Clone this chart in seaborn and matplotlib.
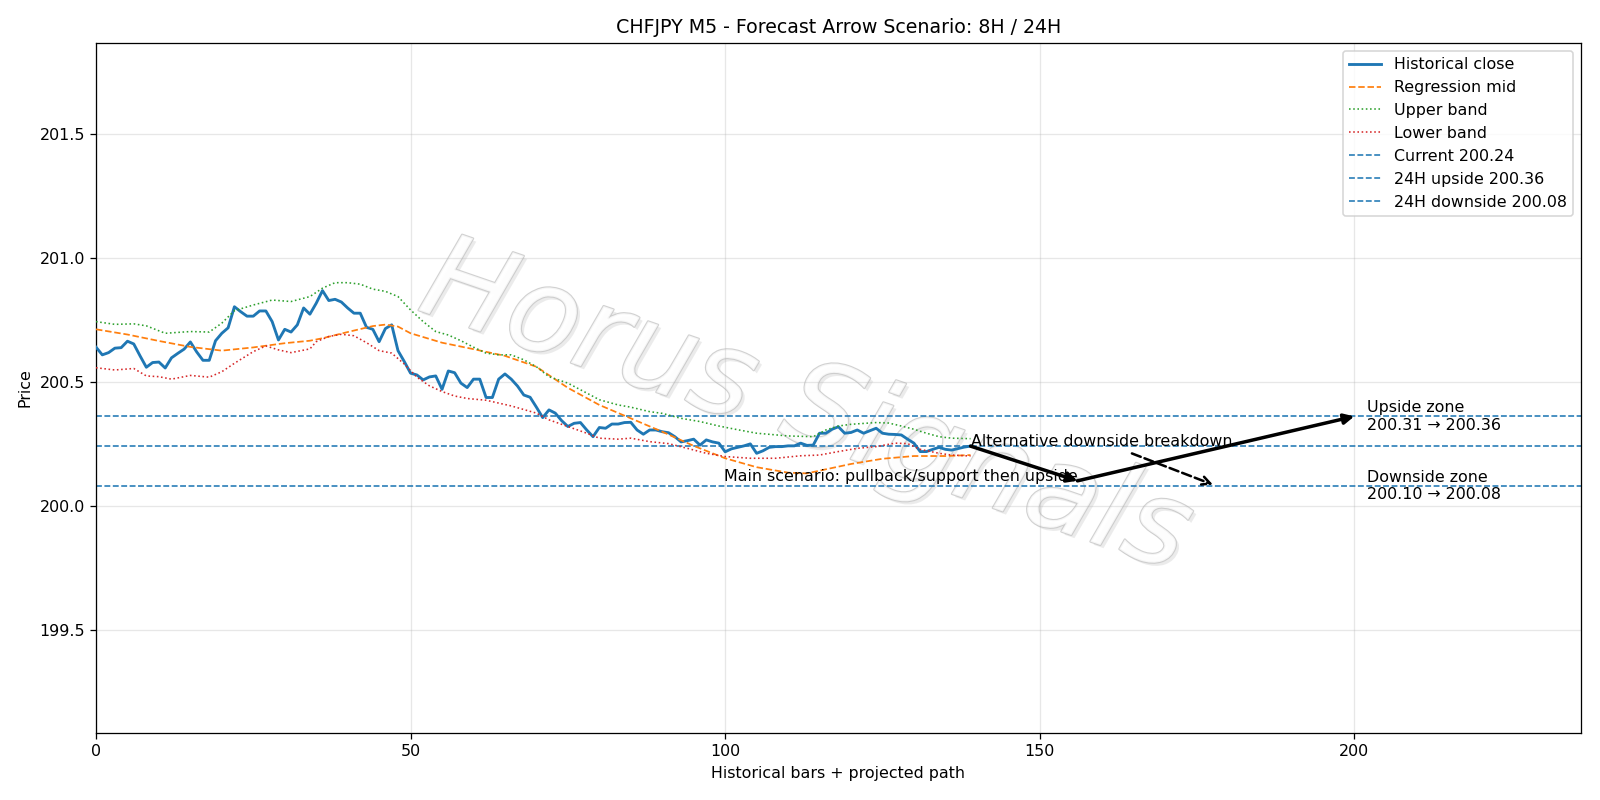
import numpy as np
import pandas as pd
import matplotlib
matplotlib.use("Agg")
import matplotlib.pyplot as plt
import matplotlib.patheffects as pe
import seaborn as sns

# ---------------- data ----------------
close = [
    200.639, 200.608, 200.617, 200.635, 200.637, 200.663, 200.652, 200.604, 200.558, 200.577,
    200.579, 200.555, 200.596, 200.614, 200.631, 200.660, 200.620, 200.586, 200.586, 200.665,
    200.695, 200.717, 200.802, 200.782, 200.764, 200.764, 200.785, 200.785, 200.742, 200.668,
    200.711, 200.700, 200.729, 200.797, 200.772, 200.816, 200.867, 200.827, 200.832, 200.821,
    200.797, 200.776, 200.776, 200.719, 200.711, 200.661, 200.714, 200.729, 200.625, 200.581,
    200.534, 200.527, 200.507, 200.519, 200.523, 200.469, 200.543, 200.536, 200.494, 200.476,
    200.510, 200.510, 200.436, 200.436, 200.510, 200.531, 200.510, 200.482, 200.446, 200.437,
    200.397, 200.355, 200.386, 200.373, 200.343, 200.319, 200.332, 200.335, 200.305, 200.278,
    200.315, 200.312, 200.329, 200.329, 200.335, 200.336, 200.305, 200.288, 200.305, 200.305,
    200.298, 200.294, 200.278, 200.257, 200.262, 200.268, 200.244, 200.265, 200.257, 200.252,
    200.217, 200.229, 200.235, 200.241, 200.249, 200.211, 200.221, 200.235, 200.238, 200.238,
    200.241, 200.241, 200.252, 200.243, 200.244, 200.292, 200.292, 200.308, 200.318, 200.292,
    200.295, 200.305, 200.292, 200.302, 200.312, 200.292, 200.288, 200.287, 200.285, 200.268,
    200.252, 200.218, 200.218, 200.227, 200.235, 200.227, 200.224, 200.230, 200.236, 200.240,
]

mid_x = [0, 5, 10, 15, 20, 25, 30, 34, 36, 40, 44, 46, 48, 50, 55, 60, 65, 70, 75, 80,
         85, 90, 95, 100, 105, 110, 113, 115, 120, 125, 130, 135, 139]
mid_y = [200.711, 200.690, 200.664, 200.640, 200.625, 200.638, 200.655, 200.665, 200.675,
         200.700, 200.724, 200.730, 200.722, 200.695, 200.657, 200.631, 200.604, 200.560,
         200.475, 200.406, 200.352, 200.298, 200.241, 200.191, 200.155, 200.133, 200.130,
         200.141, 200.168, 200.189, 200.200, 200.200, 200.204]

upper_x = [0, 3, 6, 8, 11, 15, 18, 20, 22, 25, 28, 31, 34, 36, 38, 40, 42, 44, 46, 48, 50,
           52, 54, 56, 58, 60, 62, 64, 66, 68, 70, 72, 75, 78, 80, 83, 85, 88, 90, 93, 96,
           99, 102, 105, 110, 114, 116, 118, 120, 124, 126, 128, 130, 132, 134, 136, 139]
upper_y = [200.742, 200.731, 200.733, 200.725, 200.695, 200.702, 200.700, 200.736, 200.786,
           200.809, 200.829, 200.823, 200.843, 200.877, 200.899, 200.899, 200.893, 200.873,
           200.864, 200.843, 200.789, 200.742, 200.702, 200.688, 200.665, 200.639, 200.615,
           200.608, 200.608, 200.588, 200.560, 200.520, 200.494, 200.454, 200.427, 200.406,
           200.397, 200.379, 200.372, 200.352, 200.339, 200.321, 200.306, 200.292, 200.281,
           200.278, 200.305, 200.321, 200.328, 200.335, 200.333, 200.321, 200.308, 200.292,
           200.278, 200.272, 200.270]

lower_x = [0, 3, 6, 8, 10, 12, 15, 18, 20, 22, 25, 27, 29, 31, 34, 35, 37, 39, 41, 43, 45,
           47, 49, 51, 53, 55, 57, 59, 62, 66, 70, 72, 75, 78, 80, 83, 85, 88, 91, 94, 97,
           100, 104, 108, 112, 115, 118, 121, 124, 127, 129, 131, 134, 136, 139]
lower_y = [200.556, 200.547, 200.553, 200.523, 200.520, 200.510, 200.525, 200.518, 200.540,
           200.574, 200.621, 200.644, 200.628, 200.617, 200.632, 200.661, 200.682, 200.691,
           200.685, 200.657, 200.625, 200.615, 200.571, 200.518, 200.483, 200.460, 200.442,
           200.432, 200.425, 200.402, 200.373, 200.346, 200.319, 200.292, 200.272, 200.268,
           200.272, 200.258, 200.250, 200.231, 200.211, 200.198, 200.191, 200.191, 200.201,
           200.204, 200.218, 200.231, 200.238, 200.252, 200.250, 200.227, 200.211, 200.204,
           200.200]

current_price = 200.24
upside_24h = 200.36
downside_24h = 200.08
upside_zone = (200.31, 200.36)
downside_zone = (200.10, 200.08)

scenario_x = [139, 156, 200]
scenario_y = [200.24, 200.10, 200.36]
alt_x = [139, 178]
alt_y = [200.24, 200.08]

# ---------------- plot ----------------
fig = plt.figure(figsize=(14, 7), dpi=1600 / 14)
ax = fig.add_axes([0.06, 0.0837, 0.928, 0.8627])

c0, c1, c2, c3 = "#1f77b4", "#ff7f0e", "#2ca02c", "#d62728"

df_close = pd.DataFrame({"x": np.arange(len(close)), "y": close})
df_mid = pd.DataFrame({"x": mid_x, "y": mid_y})
df_up = pd.DataFrame({"x": upper_x, "y": upper_y})
df_lo = pd.DataFrame({"x": lower_x, "y": lower_y})

sns.lineplot(data=df_close, x="x", y="y", ax=ax, color=c0, lw=1.8, label="Historical close", zorder=3)
sns.lineplot(data=df_mid, x="x", y="y", ax=ax, color=c1, lw=1.1, linestyle="--", label="Regression mid", zorder=3)
sns.lineplot(data=df_up, x="x", y="y", ax=ax, color=c2, lw=1, linestyle=":", label="Upper band", zorder=3)
sns.lineplot(data=df_lo, x="x", y="y", ax=ax, color=c3, lw=1, linestyle=":", label="Lower band", zorder=3)

ax.axhline(current_price, color=c0, lw=1, linestyle="--", label=f"Current {current_price:.2f}", zorder=2)
ax.axhline(upside_24h, color=c0, lw=1, linestyle="--", label=f"24H upside {upside_24h:.2f}", zorder=2)
ax.axhline(downside_24h, color=c0, lw=1, linestyle="--", label=f"24H downside {downside_24h:.2f}", zorder=2)

# main scenario arrows
for i in range(len(scenario_x) - 1):
    ax.annotate("", xy=(scenario_x[i + 1], scenario_y[i + 1]), xytext=(scenario_x[i], scenario_y[i]),
                arrowprops=dict(arrowstyle="-|>", lw=2.2, color="black", mutation_scale=13,
                                shrinkA=0, shrinkB=0), zorder=5)
ax.text(scenario_x[1], scenario_y[1], "Main scenario: pullback/support then upside",
        ha="right", va="baseline", fontsize=10, zorder=4)

# alternative arrow
ax.annotate("Alternative downside breakdown", xy=(alt_x[1], alt_y[1]), xytext=(alt_x[0], alt_y[0]),
            ha="left", va="baseline", fontsize=10,
            arrowprops=dict(arrowstyle="->", lw=1.6, color="black", linestyle="--", mutation_scale=13),
            zorder=5)

ax.text(202, upside_24h, f"Upside zone\n{upside_zone[0]:.2f} \u2192 {upside_zone[1]:.2f}",
        ha="left", va="center", fontsize=10)
ax.text(202, downside_24h, f"Downside zone\n{downside_zone[0]:.2f} \u2192 {downside_zone[1]:.2f}",
        ha="left", va="center", fontsize=10)

# watermark
ax.text(0.478, 0.47, "Horus Signals", transform=ax.transAxes, ha="center", va="center",
        fontsize=74, rotation=-19, style="italic", color="white", alpha=0.8,
        zorder=1,
        path_effects=[pe.SimplePatchShadow(offset=(2, -2), shadow_rgbFace="#c0c0c0", alpha=0.3),
                      pe.Stroke(linewidth=1.4, foreground="#c6c6c6"), pe.Normal()])

ax.set_xlim(0, 236)
ax.set_ylim(199.083, 201.866)
ax.set_yticks([199.5, 200.0, 200.5, 201.0, 201.5])
ax.grid(True, alpha=0.3)
ax.set_title("CHFJPY M5 - Forecast Arrow Scenario: 8H / 24H", fontsize=12)
ax.set_xlabel("Historical bars + projected path")
ax.set_ylabel("Price")
ax.legend(loc="upper right", fontsize=10)

fig.savefig("out.png", dpi=1600 / 14)
